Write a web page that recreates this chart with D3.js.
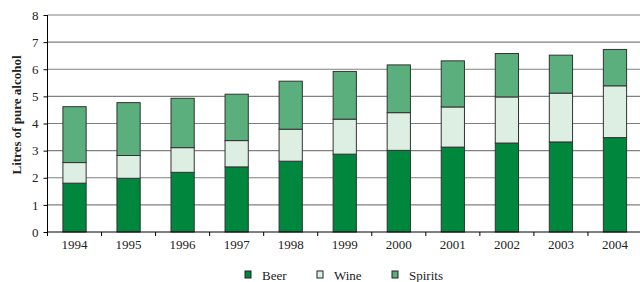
<!DOCTYPE html>
<html>
<head>
<meta charset="utf-8">
<script src="https://cdn.jsdelivr.net/npm/d3@7"></script>
<style>
  body { margin: 0; background: #fff; }
  svg { display: block; }
  svg text { font-family: "Liberation Serif", "DejaVu Serif", serif; }
</style>
</head>
<body>
<svg id="chart" width="640" height="282"></svg>
<script>
const years = ["1994", "1995", "1996", "1997", "1998", "1999", "2000", "2001", "2002", "2003", "2004"];
const beer = [1.80, 1.98, 2.20, 2.40, 2.61, 2.87, 3.01, 3.13, 3.28, 3.32, 3.48];
const wine = [0.76, 0.84, 0.91, 0.97, 1.18, 1.29, 1.39, 1.48, 1.70, 1.80, 1.91];
const spirits = [2.06, 1.95, 1.82, 1.71, 1.77, 1.76, 1.76, 1.70, 1.60, 1.40, 1.34];
const yTicks = [0, 1, 2, 3, 4, 5, 6, 7, 8];
const seriesNames = ["Beer", "Wine", "Spirits"];
const colors = ["#00873e", "#ddeee2", "#5aaf7c"];

const serif = "'Liberation Serif', 'DejaVu Serif', serif";
const margin = { top: 15, right: -2, bottom: 50, left: 47.5 };
const width = 640 - margin.left - margin.right;
const height = 282 - margin.top - margin.bottom;

const rows = years.map((y, i) => ({ year: y, Beer: beer[i], Wine: wine[i], Spirits: spirits[i] }));
const stacked = d3.stack().keys(seriesNames)(rows);

const svg = d3.select("#chart")
  .append("g")
  .attr("transform", `translate(${margin.left},${margin.top})`);

const x = d3.scaleBand().domain(years).range([0, width]).paddingInner(0.57).paddingOuter(0.285);
const y = d3.scaleLinear().domain([0, 8]).range([height, 0]);

// gridlines
svg.append("g")
  .selectAll("line")
  .data(yTicks.filter(t => t > 0))
  .enter()
  .append("line")
  .attr("x1", 0)
  .attr("x2", width)
  .attr("y1", d => y(d))
  .attr("y2", d => y(d))
  .attr("stroke", "#808080")
  .attr("stroke-width", 1.2);

// bars
svg.append("g")
  .selectAll("g")
  .data(stacked)
  .enter()
  .append("g")
  .attr("fill", (d, i) => colors[i])
  .selectAll("rect")
  .data(d => d)
  .enter()
  .append("rect")
  .attr("x", d => x(d.data.year))
  .attr("y", d => y(d[1]))
  .attr("width", x.bandwidth())
  .attr("height", d => y(d[0]) - y(d[1]))
  .attr("stroke", "#333")
  .attr("stroke-width", 1);

// y axis
const yAxis = svg.append("g")
  .call(d3.axisLeft(y).tickValues(yTicks).tickSize(4).tickPadding(5).tickFormat(d3.format("d")))
  .attr("font-family", serif);
yAxis.select(".domain").attr("stroke", "#000").attr("d", `M0,0V${height}`);
yAxis.selectAll(".tick line").attr("stroke", "#000");
yAxis.selectAll("text").attr("font-size", 13).attr("fill", "#222");

// x axis with ticks at band edges
const xAxis = svg.append("g").attr("transform", `translate(0,${height})`);
xAxis.append("line").attr("x1", 0).attr("x2", width).attr("stroke", "#000");
const step = x.step();
xAxis.selectAll(".xt")
  .data(d3.range(years.length + 1))
  .enter()
  .append("line")
  .attr("x1", i => i * step)
  .attr("x2", i => i * step)
  .attr("y1", 0)
  .attr("y2", 4)
  .attr("stroke", "#000");
xAxis.selectAll("text")
  .data(years)
  .enter()
  .append("text")
  .attr("x", d => x(d) + x.bandwidth() / 2)
  .attr("y", 17)
  .attr("text-anchor", "middle")
  .attr("font-size", 13)
  .attr("fill", "#222")
  .text(d => d);

// y label
svg.append("text")
  .attr("transform", "rotate(-90)")
  .attr("x", -100)
  .attr("y", -27)
  .attr("text-anchor", "middle")
  .attr("font-size", 13)
  .attr("font-weight", "bold")
  .attr("fill", "#222")
  .text("Litres of pure alcohol");

// legend
const legendX = [245, 317, 392];
const legend = d3.select("#chart").append("g");
seriesNames.forEach((name, i) => {
  legend.append("rect")
    .attr("x", legendX[i])
    .attr("y", 271)
    .attr("width", 6)
    .attr("height", 7)
    .attr("fill", colors[i])
    .attr("stroke", "#222")
    .attr("stroke-width", 1);
  legend.append("text")
    .attr("x", legendX[i] + 17)
    .attr("y", 280)
    .attr("font-size", 13)
    .attr("fill", "#222")
    .text(name);
});
</script>
</body>
</html>
